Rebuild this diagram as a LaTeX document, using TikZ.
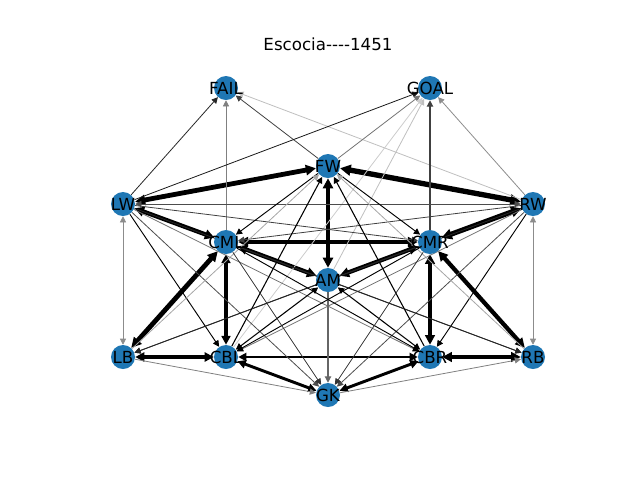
\documentclass[tikz,border=0pt]{standalone}
\usepackage{fontspec}
\setmainfont{DejaVu Sans}
\usetikzlibrary{arrows.meta}
\pgfdeclarelayer{bg}
\pgfsetlayers{bg,main}
\definecolor{nodeblue}{HTML}{1F77B4}
\tikzset{
  x=0.75pt, y=-0.75pt,
  player/.style={circle, fill=nodeblue, minimum size=18pt, inner sep=0pt,
    label={[font=\fontsize{12.5}{12.5}\selectfont, inner sep=0pt]center:#1}},
  one/.style={-{Triangle[length=4pt 1, width=4pt 1]}},
  two/.style={{Triangle[length=4pt 1, width=4pt 1]}-{Triangle[length=4pt 1, width=4pt 1]}},
  th/.style={line width=0.6pt},
}
\begin{document}
\begin{tikzpicture}
\useasboundingbox (0,0) rectangle (640,480);
\node[font=\fontsize{12.5}{12.5}\selectfont] (title) at (328,44) {Escocia{-}{-}{-}{-}1451};
\node[player=FAIL] (FAIL) at (226,88) {};
\node[player=GOAL] (GOAL) at (430,88) {};
\node[player=FW] (FW) at (328,166) {};
\node[player=LW] (LW) at (123,204) {};
\node[player=RW] (RW) at (533,204) {};
\node[player=CML] (CML) at (226,242) {};
\node[player=CMR] (CMR) at (430,242) {};
\node[player=AM] (AM) at (328,280) {};
\node[player=LB] (LB) at (123,357) {};
\node[player=CBL] (CBL) at (226,357) {};
\node[player=CBR] (CBR) at (430,357) {};
\node[player=RB] (RB) at (533,357) {};
\node[player=GK] (GK) at (328,395) {};
\begin{pgfonlayer}{bg}
% thick two-way edges
\draw[two, line width=3.6pt] (LW) -- (FW);
\draw[two, line width=4pt] (FW) -- (RW);
\draw[two, line width=3.6pt] (FW) -- (AM);
\draw[two, line width=3.2pt] (LW) -- (CML);
\draw[two, line width=3.4pt] (CML) -- (CMR);
\draw[two, line width=3.2pt] (CML) -- (AM);
\draw[two, line width=3.2pt] (AM) -- (CMR);
\draw[two, line width=3.8pt] (CMR) -- (RW);
\draw[two, line width=3.6pt] (CML) -- (LB);
\draw[two, line width=2.6pt] (CML) -- (CBL);
\draw[two, line width=3.2pt] (CMR) -- (CBR);
\draw[two, line width=3.2pt] (CMR) -- (RB);
\draw[two, line width=2.8pt] (LB) -- (CBL);
\draw[two, line width=2pt] (CBL) -- (CBR);
\draw[two, line width=3.2pt] (CBR) -- (RB);
\draw[two, line width=2.2pt] (CBL) -- (GK);
\draw[two, line width=2.2pt] (GK) -- (CBR);
% to FAIL and GOAL
\draw[one, th, black!85] (LW) -- (FAIL);
\draw[one, th, black!50] (CML) -- (FAIL);
\draw[one, th, black!75] (FW) -- (FAIL);
\draw[one, th, black!25] (RW) -- (FAIL);
\draw[one, th, black!90] (LW) -- (GOAL);
\draw[one, th, black!55] (FW) -- (GOAL);
\draw[one, line width=0.8pt, black!75] (CMR) -- (GOAL);
\draw[one, th, black!45] (RW) -- (GOAL);
\draw[one, th, black!25] (AM) -- (GOAL);
\draw[one, th, black!20] (CBL) -- (GOAL);
% other thin edges
\draw[two, th, black!70] (LW) -- (RW);
\draw[one, th, black!75] (LW) -- (CMR);
\draw[one, th, black!75] (RW) -- (CML);
\draw[two, th, black!45] (LW) -- (LB);
\draw[two, th, black!45] (RW) -- (RB);
\draw[one, line width=0.7pt] (LW) -- (CBL);
\draw[one, th, black!55] (LW) -- (CBR);
\draw[one, th, black!70] (LW) -- (GK);
\draw[one, th, black!85] (LW) -- (RB);
\draw[one, line width=0.7pt] (RW) -- (CBR);
\draw[one, th, black!55] (RW) -- (CBL);
\draw[one, th, black!70] (RW) -- (GK);
\draw[one, th, black!85] (RW) -- (LB);
\draw[one, line width=0.7pt] (FW) -- (CML);
\draw[one, line width=0.7pt] (FW) -- (CMR);
\draw[one, line width=0.8pt] (CBL) -- (FW);
\draw[one, line width=0.8pt] (CBR) -- (FW);
\draw[one, th, black!35] (LB) -- (FW);
\draw[one, th, black!35] (RB) -- (FW);
\draw[two, line width=0.8pt] (AM) -- (CBL);
\draw[two, line width=0.8pt] (AM) -- (CBR);
\draw[one, line width=0.8pt, black!60] (AM) -- (GK);
\draw[one, line width=0.7pt] (CML) -- (CBR);
\draw[one, line width=0.7pt] (CMR) -- (CBL);
\draw[one, th, black!80] (CML) -- (GK);
\draw[one, th, black!80] (CMR) -- (GK);
\draw[one, th, black!85] (CMR) -- (LB);
\draw[one, th, black!85] (CML) -- (RB);
\draw[one, th, black!50] (LB) -- (GK);
\draw[one, th, black!50] (GK) -- (RB);
\end{pgfonlayer}
\end{tikzpicture}
\end{document}
